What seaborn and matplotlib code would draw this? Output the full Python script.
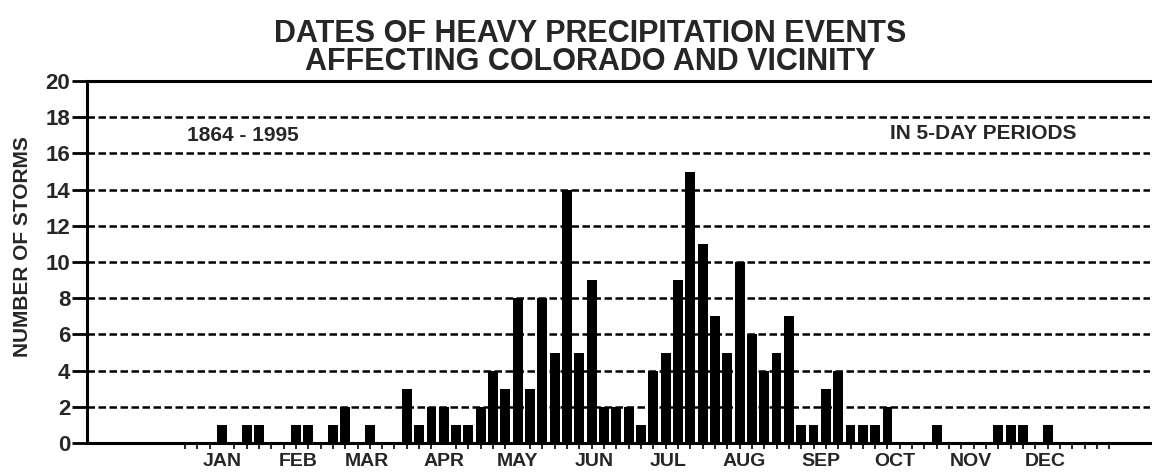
import numpy as np
import pandas as pd
import matplotlib
matplotlib.use("Agg")
import matplotlib.pyplot as plt
import seaborn as sns

# storms per 5-day period (73 periods, Jan 1 = period 0)
periods = list(range(73))
storms = [0] * 73
# sparse winter/late-year counts
storms[0] = 1
storms[2] = 1
storms[3] = 1
storms[6] = 1
storms[7] = 1
storms[9] = 1
storms[10] = 2
storms[12] = 1
# continuous run from early April to early October
run_start = 15
run_counts = [3, 1, 2, 2, 1, 1, 2, 4, 3, 8,
              3, 8, 5, 14, 5, 9, 2, 2, 2, 1,
              4, 5, 9, 15, 11, 7, 5, 10, 6, 4,
              5, 7, 1, 1, 3, 4, 1, 1, 1, 2]
for k, v in enumerate(run_counts):
    storms[run_start + k] = v
storms[58] = 1
storms[63] = 1
storms[64] = 1
storms[65] = 1
storms[67] = 1

months = ["JAN", "FEB", "MAR", "APR", "MAY", "JUN",
          "JUL", "AUG", "SEP", "OCT", "NOV", "DEC"]
month_start_day = [0, 31, 59, 90, 120, 151, 181, 212, 243, 273, 304, 334]

df = pd.DataFrame({"period": periods, "storms": storms})

sns.set_theme(style="white")
plt.rcParams["font.family"] = ["Liberation Sans", "DejaVu Sans"]
plt.rcParams["font.weight"] = "bold"

fig = plt.figure(figsize=(11.58, 4.74), dpi=100)
ax = fig.add_axes([0.0751, 0.0654, 0.918, 0.7637])

sns.barplot(data=df, x="period", y="storms", color="black", width=0.8,
            linewidth=0, saturation=1, ax=ax, native_scale=True)

ax.set_xlim(-10.95, 75.3)
ax.set_ylim(0, 20)

# y axis
ax.set_yticks(range(0, 21, 2))
ax.set_yticklabels([str(v) for v in range(0, 21, 2)], fontsize=16, fontweight="bold")
ax.tick_params(axis="y", direction="out", length=11, width=2, pad=1, color="black", left=True)
for y in range(2, 20, 2):
    ax.axhline(y, color="black", lw=1.8, ls=(0, (3, 1.4)), zorder=0)

# x axis: months at month start, minor ticks per period
ax.set_xticks([d / 5 for d in month_start_day])
ax.set_xticklabels(months, fontsize=14, fontweight="bold")
ax.set_xticks(np.arange(-3, 73), minor=True)
ax.tick_params(axis="x", which="major", length=0, pad=7)
ax.tick_params(axis="x", which="minor", direction="out", length=4, width=1.2,
               color="black", bottom=True)

ax.set_xlabel("")
ax.set_ylabel("")

for side in ["left", "bottom", "top"]:
    ax.spines[side].set_visible(True)
    ax.spines[side].set_color("black")
    ax.spines[side].set_linewidth(2.2)
ax.spines["right"].set_visible(False)

ax.text(1.7, 17.0, "1864 - 1995", fontsize=15, fontweight="bold", ha="center", va="center")
ax.text(61.8, 17.1, "IN 5-DAY PERIODS", fontsize=15, fontweight="bold", ha="center", va="center")

fig.text(0.019, 0.479, "NUMBER OF STORMS", rotation=90, fontsize=15,
         fontweight="bold", ha="center", va="center")
fig.text(0.51, 0.96, "DATES OF HEAVY PRECIPITATION EVENTS\nAFFECTING COLORADO AND VICINITY",
         fontsize=22, fontweight="bold", ha="center", va="top", linespacing=0.9)

fig.savefig("out.png", dpi=100)
